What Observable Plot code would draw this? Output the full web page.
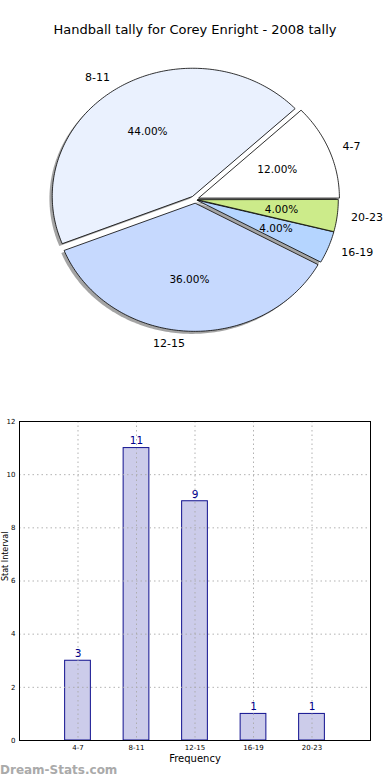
<!DOCTYPE html>
<html>
<head>
<meta charset="utf-8">
<script src="https://cdn.jsdelivr.net/npm/d3@7"></script>
<script src="https://cdn.jsdelivr.net/npm/@observablehq/plot@0.6"></script>
<style>
  html, body { margin: 0; padding: 0; background: #fff; }
  #wrap { position: relative; width: 390px; height: 780px; background: #fff; font-family: "DejaVu Sans", sans-serif; overflow: hidden; }
  #title { position: absolute; top: 22px; left: 0; width: 390px; text-align: center; font-size: 13px; color: #000; }
  #pie { position: absolute; top: 0; left: 0; }
  #bar { position: absolute; top: 410px; left: 0; }
  #wm { position: absolute; top: 763px; left: 0; font: bold 12px "DejaVu Sans", sans-serif; color: #aaa; }
</style>
</head>
<body>
<div id="wrap">
  <div id="pie"></div>
  <div id="title">Handball tally for Corey Enright - 2008 tally</div>
  <div id="bar"></div>
  <div id="wm">Dream-Stats.com</div>
</div>
<script>
// ---- data ----
const categories = ["4-7", "8-11", "12-15", "16-19", "20-23"];
const counts = [3, 11, 9, 1, 1];
const yTicks = [0, 2, 4, 6, 8, 10, 12];
const titleText = "Handball tally for Corey Enright - 2008 tally";
const xLabel = "Frequency";
const yLabel = "Stat Interval";

// ---- pie configuration ----
const sliceColors = ["#ffffff", "#eaf1fe", "#c6d9fe", "#b5d5ff", "#cceb8a"];
const explode = [0.03, 0.03, 0.03, 0.02, 0.02];

const total = d3.sum(counts);
let cum = 0;
const slices = categories.map((cat, i) => {
  const a0 = cum / total * 2 * Math.PI;
  cum += counts[i];
  const a1 = cum / total * 2 * Math.PI;
  const mid = (a0 + a1) / 2;
  const cx = explode[i] * Math.cos(mid);
  const cy = explode[i] * Math.sin(mid);
  return {cat, i, a0, a1, mid, cx, cy, pct: (counts[i] / total * 100).toFixed(2) + "%"};
});

const piePts = [];
slices.forEach(s => {
  piePts.push({cat: s.cat, x: s.cx, y: s.cy});
  const n = Math.max(4, Math.ceil((s.a1 - s.a0) / (Math.PI / 180)));
  for (let k = 0; k <= n; k++) {
    const a = s.a0 + (s.a1 - s.a0) * k / n;
    piePts.push({cat: s.cat, x: s.cx + Math.cos(a), y: s.cy + Math.sin(a)});
  }
});
const shadowOff = 0.02;
const shadowPts = piePts.map(p => ({cat: p.cat, x: p.x - shadowOff, y: p.y - shadowOff}));

const labelPts = slices.map(s => ({
  cat: s.cat,
  x: s.cx + 1.1 * Math.cos(s.mid),
  y: s.cy + 1.1 * Math.sin(s.mid),
  anchor: Math.cos(s.mid) > 0 ? "start" : "end"
}));
const pctPts = slices.map(s => ({
  pct: s.pct,
  x: s.cx + 0.6 * Math.cos(s.mid),
  y: s.cy + 0.6 * Math.sin(s.mid)
}));

const pie = Plot.plot({
  width: 390,
  height: 400,
  style: {background: "transparent", fontFamily: "DejaVu Sans"},
  x: {domain: [-1, 1], range: [54, 335], axis: null},
  y: {domain: [-1, 1], range: [327, 71], axis: null},
  color: {domain: categories, range: sliceColors},
  marks: [
    Plot.line(shadowPts, {x: "x", y: "y", z: "cat", fill: "#4a4a4a", fillOpacity: 0.5, stroke: "none", curve: "linear-closed"}),
    Plot.line(piePts, {x: "x", y: "y", z: "cat", fill: "cat", stroke: "#000", strokeWidth: 0.8, curve: "linear-closed"}),
    Plot.text(labelPts.filter(d => d.anchor === "start"), {x: "x", y: "y", text: "cat", textAnchor: "start", fontSize: 11, fill: "#000"}),
    Plot.text(labelPts.filter(d => d.anchor === "end"), {x: "x", y: "y", text: "cat", textAnchor: "end", fontSize: 11, fill: "#000"}),
    Plot.text(pctPts, {x: "x", y: "y", text: "pct", fontSize: 10.5, fill: "#000"})
  ]
});
document.getElementById("pie").appendChild(pie);
document.getElementById("title").textContent = titleText;

// ---- bar chart ----
const barData = categories.map((c, i) => ({cat: c, pos: i + 1, count: counts[i]}));
const halfW = 0.22;

const bar = Plot.plot({
  width: 390,
  height: 360,
  marginLeft: 19,
  marginRight: 20,
  marginTop: 11,
  marginBottom: 30,
  style: {background: "transparent", fontFamily: "DejaVu Sans", overflow: "visible"},
  x: {domain: [0, 6], axis: null},
  y: {domain: [0, 12], axis: null},
  marks: [
    Plot.rectY(barData, {x1: d => d.pos - halfW, x2: d => d.pos + halfW, y: "count", fill: "#ccccea", stroke: "#10108f", strokeWidth: 1}),
    Plot.gridY({ticks: [2, 4, 6, 8, 10], stroke: "#aaa", strokeOpacity: 0.9, strokeDasharray: "1.5,3"}),
    Plot.gridX({ticks: [1, 2, 3, 4, 5], stroke: "#aaa", strokeOpacity: 0.9, strokeDasharray: "1.5,3"}),
    Plot.text(barData, {x: "pos", y: "count", text: d => String(d.count), dy: -7, fill: "#00008b", fontSize: 10.5}),
    Plot.axisY({ticks: yTicks, tickSize: 0, tickPadding: 4, fontSize: 7, label: null}),
    Plot.axisX({ticks: [1, 2, 3, 4, 5], tickFormat: d => categories[d - 1], tickSize: 0, tickPadding: 5, fontSize: 7, label: null}),
    Plot.text([xLabel], {frameAnchor: "bottom", dy: 21, fontSize: 10, fill: "#000"}),
    Plot.text([yLabel], {frameAnchor: "left", rotate: -90, dx: -14, fontSize: 8, fill: "#000"}),
    Plot.frame({stroke: "#000", strokeWidth: 1})
  ]
});
document.getElementById("bar").appendChild(bar);
</script>
</body>
</html>
